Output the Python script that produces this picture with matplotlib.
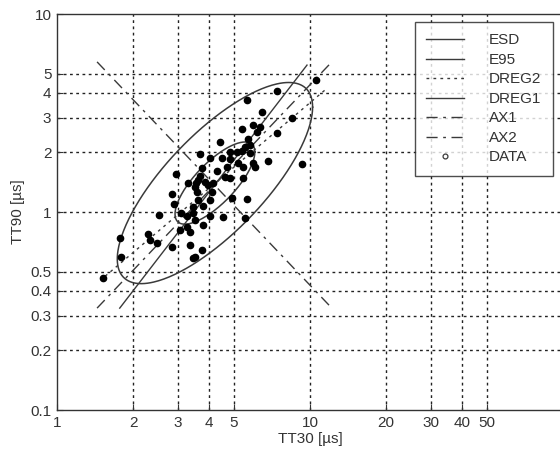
import numpy as np
import matplotlib
matplotlib.use("Agg")
import matplotlib.pyplot as plt
from matplotlib.lines import Line2D
from matplotlib.ticker import FixedLocator, FixedFormatter, NullLocator

plt.rcParams['font.family'] = ['Liberation Sans', 'DejaVu Sans']

# ---- data (TT30, TT90 in microseconds) ----
tt30 = [1.52, 1.79, 1.77, 2.29, 2.33, 2.48, 2.53, 2.85, 2.90, 2.95, 2.85, 3.06,
        3.26, 3.35, 3.35, 3.51, 3.09, 3.26, 3.45, 3.51, 3.29, 3.54, 3.51, 3.45,
        3.61, 3.58, 3.61, 3.67, 3.67, 3.74, 3.85, 3.95, 4.03, 4.03, 3.78, 4.03,
        4.10, 4.14, 4.29, 4.41, 4.49, 4.53, 4.70, 4.61, 4.83, 4.83, 4.83, 4.92,
        5.15, 5.19, 5.39, 5.39, 5.43, 5.43, 5.53, 5.64, 5.64, 5.53, 5.69, 5.79,
        5.79, 5.95, 5.95, 6.06, 6.18, 6.35, 6.46, 6.82, 7.41, 7.41, 8.49, 9.30,
        10.56, 3.74, 3.45, 3.78]
tt90 = [0.464, 0.593, 0.739, 0.774, 0.722, 0.697, 0.966, 1.233, 1.097, 1.555, 0.666, 0.811,
        0.840, 0.792, 0.681, 0.593, 0.988, 0.954, 0.988, 0.911, 1.401, 1.401, 1.337, 1.060,
        1.150, 1.262, 1.451, 1.520, 1.963, 1.668, 1.418, 1.368, 1.874, 1.150, 1.072, 0.954,
        1.262, 1.401, 1.611, 2.258, 1.874, 0.943, 1.687, 1.502, 1.853, 2.009, 1.485, 1.177,
        2.009, 1.767, 2.625, 2.032, 1.687, 1.485, 2.130, 3.679, 1.163, 0.933, 2.337, 2.180,
        1.986, 2.750, 1.767, 1.687, 2.535, 2.687, 3.200, 1.810, 4.083, 2.506, 2.984, 1.748,
        4.64, 0.643, 0.586, 0.860]

# ellipse (log10 space): centre and 95% covariance shape
ell_center = (4.21, 1.40)
e95_sxx, e95_syy, e95_sxy = 0.149, 0.258, 0.148
esd_scale = 1 / 2.447

# straight lines (end points)
dreg2_x, dreg2_y = [1.55, 11.46], [0.474, 4.13]
dreg1_x, dreg1_y = [1.77, 9.73], [0.327, 5.52]
ax1_x, ax1_y = [1.44, 12.2], [0.327, 5.73]
ax2_x, ax2_y = [1.44, 12.2], [5.73, 0.327]

xticks = [1, 2, 3, 4, 5, 10, 20, 30, 40, 50]
yticks = [0.1, 0.2, 0.3, 0.4, 0.5, 1, 2, 3, 4, 5, 10]
ytick_labels = ['0.1', '0.2', '0.3', '0.4', '0.5', '1', '2', '3', '4', '5', '10']

fig = plt.figure(figsize=(5.6, 4.57), dpi=100)
ax = fig.add_axes([57/560, 1 - 410/457, 506/560, 396/457])
ax.set_xscale('log')
ax.set_yscale('log')
ax.set_xlim(1, 100)
ax.set_ylim(0.1, 10)

# grid
gcol = '#222222'
for xv in xticks[1:]:
    ax.axvline(xv, color=gcol, lw=1.0, ls=(0, (2, 2.5)), zorder=1)
for yv in yticks[1:-1]:
    ax.axhline(yv, color=gcol, lw=1.0, ls=(0, (2, 2.5)), zorder=1)

# ellipses
L = np.linalg.cholesky(np.array([[e95_sxx, e95_sxy], [e95_sxy, e95_syy]]))
t = np.linspace(0, 2 * np.pi, 300)
circ = np.vstack([np.cos(t), np.sin(t)])
cu, cv = np.log10(ell_center[0]), np.log10(ell_center[1])
lcol = '#3a3a3a'
for s in (1.0, esd_scale):
    pts = L @ circ * s
    ax.plot(10 ** (cu + pts[0]), 10 ** (cv + pts[1]), color=lcol, lw=1.1, zorder=3)

ax.plot(dreg2_x, dreg2_y, color=lcol, lw=1.0, ls=(0, (2, 3)), zorder=3)
ax.plot(dreg1_x, dreg1_y, color=lcol, lw=1.0, ls='-', zorder=3)
ax.plot(ax1_x, ax1_y, color=lcol, lw=1.0, ls=(0, (8, 4, 2, 4)), zorder=3)
ax.plot(ax2_x, ax2_y, color=lcol, lw=1.0, ls=(0, (8, 4, 2, 4)), zorder=3)

ax.plot(tt30, tt90, 'o', color='black', ms=4.5, zorder=4)

ax.xaxis.set_major_locator(FixedLocator(xticks))
ax.xaxis.set_major_formatter(FixedFormatter([str(v) for v in xticks]))
ax.yaxis.set_major_locator(FixedLocator(yticks))
ax.yaxis.set_major_formatter(FixedFormatter(ytick_labels))
ax.xaxis.set_minor_locator(NullLocator())
ax.yaxis.set_minor_locator(NullLocator())
ax.tick_params(direction='in', length=4, width=0.8, colors='#333333', labelsize=11, pad=4)
for sp in ax.spines.values():
    sp.set_color('#333333')
    sp.set_linewidth(1.0)

ax.set_xlabel('TT30 [µs]', fontsize=11, color='#333333', labelpad=2)
ax.set_ylabel('TT90 [µs]', fontsize=11, color='#333333', labelpad=4)

handles = [
    Line2D([], [], color=lcol, lw=1.0, ls='-'),
    Line2D([], [], color=lcol, lw=1.0, ls='-'),
    Line2D([], [], color=lcol, lw=1.0, ls=(0, (2, 3))),
    Line2D([], [], color=lcol, lw=1.0, ls='-'),
    Line2D([], [], color=lcol, lw=1.0, ls=(0, (8, 4, 2, 4))),
    Line2D([], [], color=lcol, lw=1.0, ls=(0, (8, 4, 2, 4))),
    Line2D([], [], color=lcol, marker='o', ls='none', ms=3.5, mfc='none', mew=0.9),
]
labels = ['ESD', 'E95', 'DREG2', 'DREG1', 'AX1', 'AX2', 'DATA']
leg = ax.legend(handles, labels, loc='upper left', bbox_to_anchor=(0.707, 0.98),
                fontsize=11, frameon=True, fancybox=False, borderpad=0.75,
                labelspacing=0.36, handlelength=2.5, handletextpad=1.6,
                borderaxespad=0)
leg.get_frame().set_edgecolor('#222222')
leg.get_frame().set_linewidth(1.0)
for txt in leg.get_texts():
    txt.set_color('#333333')
leg.set_zorder(10)

fig.savefig('out.png', dpi=100)
